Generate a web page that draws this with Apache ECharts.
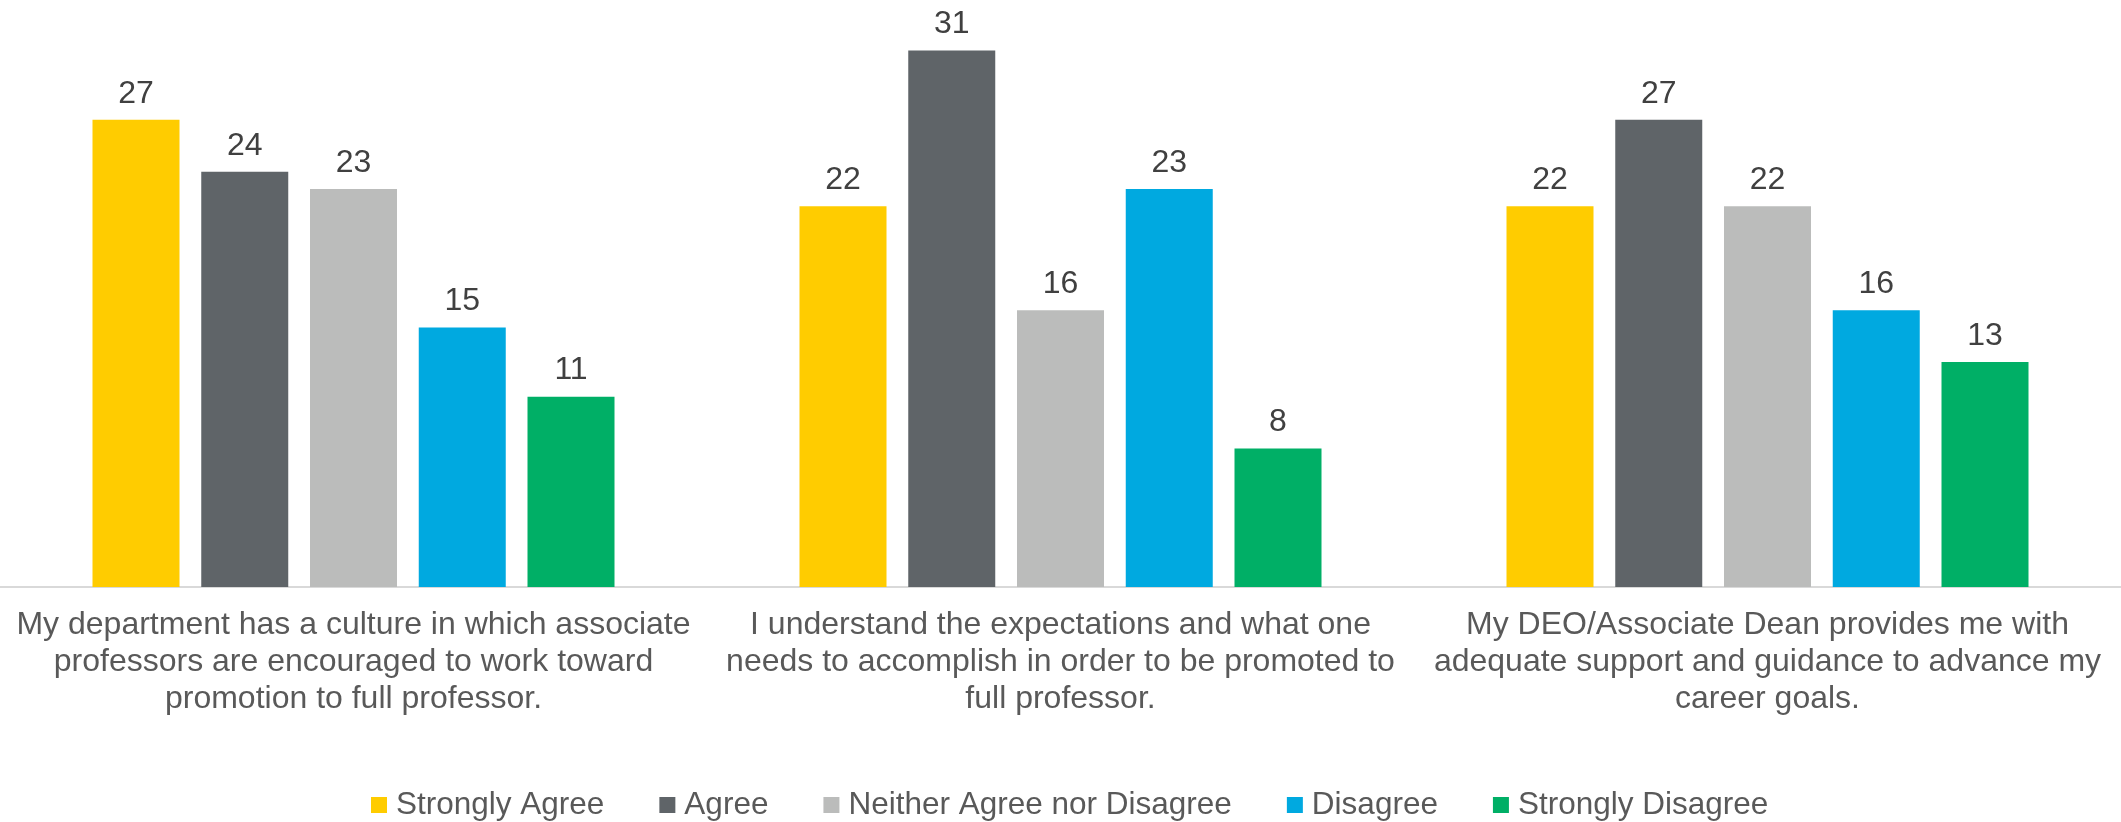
<!DOCTYPE html>
<html>
<head>
<meta charset="utf-8">
<script src="https://cdn.jsdelivr.net/npm/echarts@6/dist/echarts.min.js"></script>
<style>
html,body{margin:0;padding:0;background:#fff;}
#chart{width:2121px;height:822px;}
</style>
</head>
<body>
<div id="chart"></div>
<script>
const categories = [
  "My department has a culture in which associate\nprofessors are encouraged to work toward\npromotion to full professor.",
  "I understand the expectations and what one\nneeds to accomplish in order to be promoted to\nfull professor.",
  "My DEO/Associate Dean provides me with\nadequate support and guidance to advance my\ncareer goals."
];
const seriesNames = ["Strongly Agree", "Agree", "Neither Agree nor Disagree", "Disagree", "Strongly Disagree"];
const stronglyAgree = [27, 22, 22];
const agree = [24, 31, 27];
const neither = [23, 16, 22];
const disagree = [15, 23, 16];
const stronglyDisagree = [11, 8, 13];
const seriesColors = ["#FFCC00", "#5F6468", "#BBBCBB", "#00A9E0", "#00AF66"];

const allValues = [stronglyAgree, agree, neither, disagree, stronglyDisagree];
const FONT = 'Arial, "Liberation Sans", sans-serif';

const chart = echarts.init(document.getElementById('chart'), null, {renderer: 'canvas'});
chart.setOption({
  animation: false,
  backgroundColor: '#ffffff',
  textStyle: {fontFamily: FONT},
  grid: {left: 0, right: 0, top: 16, bottom: 235, containLabel: false},
  legend: {
    data: seriesNames,
    top: 784,
    left: 366,
    icon: 'rect',
    itemWidth: 16,
    itemHeight: 16,
    itemGap: 55,
    textStyle: {fontFamily: FONT, fontSize: 31.5, color: '#595959', padding: [0, 0, 0, 4]}
  },
  xAxis: {
    type: 'category',
    data: categories,
    axisLine: {show: true, lineStyle: {color: '#D9D9D9', width: 2}},
    axisTick: {show: false},
    axisLabel: {
      interval: 0,
      margin: 20,
      fontFamily: FONT,
      fontSize: 32,
      lineHeight: 37,
      color: '#595959',
      align: 'center'
    }
  },
  yAxis: {
    type: 'value',
    min: 0,
    max: 33,
    show: false,
    splitLine: {show: false}
  },
  series: seriesNames.map((name, i) => ({
    name: name,
    type: 'bar',
    data: allValues[i],
    barWidth: 87,
    barGap: '25%',
    itemStyle: {color: seriesColors[i]},
    label: {
      show: true,
      position: 'top',
      distance: 10,
      fontFamily: FONT,
      fontSize: 32,
      color: '#404040'
    }
  }))
});
</script>
</body>
</html>
